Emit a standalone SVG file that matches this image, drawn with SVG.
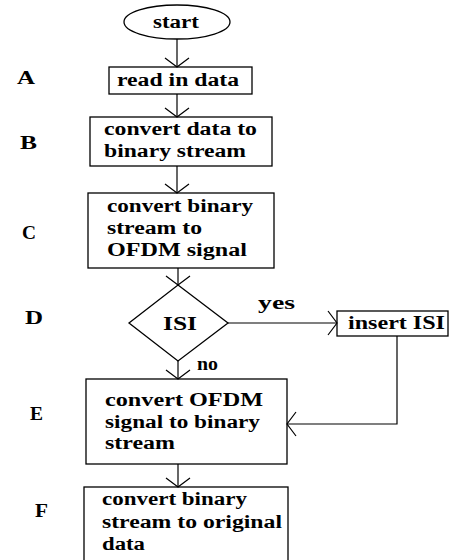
<svg xmlns="http://www.w3.org/2000/svg" width="450" height="560" viewBox="0 0 450 560">
<defs>
<style>
.shape{fill:#fff;stroke:#000;stroke-width:1.3}
.t{font-family:"Liberation Serif","Times New Roman",serif;font-weight:bold;font-size:18px;fill:#000}
.lab{font-family:"Liberation Serif","Times New Roman",serif;font-weight:bold;font-size:18px;fill:#000}
.conn path{fill:none;stroke:#000;stroke-width:1.2}
</style>
<marker id="arr" markerUnits="userSpaceOnUse" markerWidth="12" markerHeight="26" refX="10" refY="13" orient="auto" viewBox="0 0 12 26">
<path d="M1,1 L10,13 L1,25" fill="none" stroke="#000" stroke-width="1.2"/>
</marker>
</defs>
<rect width="450" height="560" fill="#fff"/>
<g id="letters">
<text class="lab" x="17" y="84" textLength="18" lengthAdjust="spacingAndGlyphs">A</text>
<text class="lab" x="20" y="149" textLength="17" lengthAdjust="spacingAndGlyphs">B</text>
<text class="lab" x="22" y="239" textLength="14" lengthAdjust="spacingAndGlyphs">C</text>
<text class="lab" x="25" y="324" textLength="18" lengthAdjust="spacingAndGlyphs">D</text>
<text class="lab" x="30" y="420" textLength="13" lengthAdjust="spacingAndGlyphs">E</text>
<text class="lab" x="35" y="517" textLength="13" lengthAdjust="spacingAndGlyphs">F</text>
</g>
<g id="start">
<ellipse class="shape" cx="177" cy="22" rx="53" ry="17"/>
<text class="t" x="153" y="28" textLength="46" lengthAdjust="spacingAndGlyphs">start</text>
</g>
<g id="nodeA">
<rect class="shape" x="109" y="67" width="143" height="27"/>
<text class="t" x="117" y="86" textLength="122" lengthAdjust="spacingAndGlyphs">read in data</text>
</g>
<g id="nodeB">
<rect class="shape" x="90" y="117" width="182" height="49"/>
<text class="t" x="104" y="135" textLength="153" lengthAdjust="spacingAndGlyphs">convert data to</text>
<text class="t" x="104" y="157" textLength="142" lengthAdjust="spacingAndGlyphs">binary stream</text>
</g>
<g id="nodeC">
<rect class="shape" x="88" y="193" width="186" height="75"/>
<text class="t" x="107" y="212" textLength="146" lengthAdjust="spacingAndGlyphs">convert binary</text>
<text class="t" x="107" y="234" textLength="95" lengthAdjust="spacingAndGlyphs">stream to</text>
<text class="t" x="107" y="256" textLength="140" lengthAdjust="spacingAndGlyphs">OFDM signal</text>
</g>
<g id="nodeD">
<polygon class="shape" points="178,285 228,323 178,361 129,323"/>
<text class="t" x="163" y="330" textLength="34" lengthAdjust="spacingAndGlyphs">ISI</text>
</g>
<g id="insert">
<rect class="shape" x="337" y="311" width="111" height="25"/>
<text class="t" x="348" y="329" textLength="97" lengthAdjust="spacingAndGlyphs">insert ISI</text>
</g>
<g id="nodeE">
<rect class="shape" x="86" y="379" width="201" height="85"/>
<text class="t" x="105" y="406" textLength="158" lengthAdjust="spacingAndGlyphs">convert OFDM</text>
<text class="t" x="105" y="428" textLength="155" lengthAdjust="spacingAndGlyphs">signal to binary</text>
<text class="t" x="105" y="449" textLength="70" lengthAdjust="spacingAndGlyphs">stream</text>
</g>
<g id="nodeF">
<rect class="shape" x="84" y="487" width="204" height="80"/>
<text class="t" x="102" y="505" textLength="145" lengthAdjust="spacingAndGlyphs">convert binary</text>
<text class="t" x="102" y="528" textLength="180" lengthAdjust="spacingAndGlyphs">stream to original</text>
<text class="t" x="102" y="550" textLength="43" lengthAdjust="spacingAndGlyphs">data</text>
</g>
<g id="connectors" class="conn">
<path d="M177,39 L177,67" marker-end="url(#arr)"/>
<path d="M177,94 L177,117" marker-end="url(#arr)"/>
<path d="M177,166 L177,193" marker-end="url(#arr)"/>
<path d="M178,268 L178,285" marker-end="url(#arr)"/>
<path d="M228,323 L337,323" marker-end="url(#arr)"/>
<path d="M178,361 L178,379" marker-end="url(#arr)"/>
<path d="M397,336 L397,424 L287,424" marker-end="url(#arr)"/>
<path d="M178,464 L178,487" marker-end="url(#arr)"/>
</g>
<g id="labels">
<text class="t" x="258" y="309" textLength="37" lengthAdjust="spacingAndGlyphs">yes</text>
<text class="t" x="197" y="370" textLength="21" lengthAdjust="spacingAndGlyphs">no</text>
</g>
</svg>
